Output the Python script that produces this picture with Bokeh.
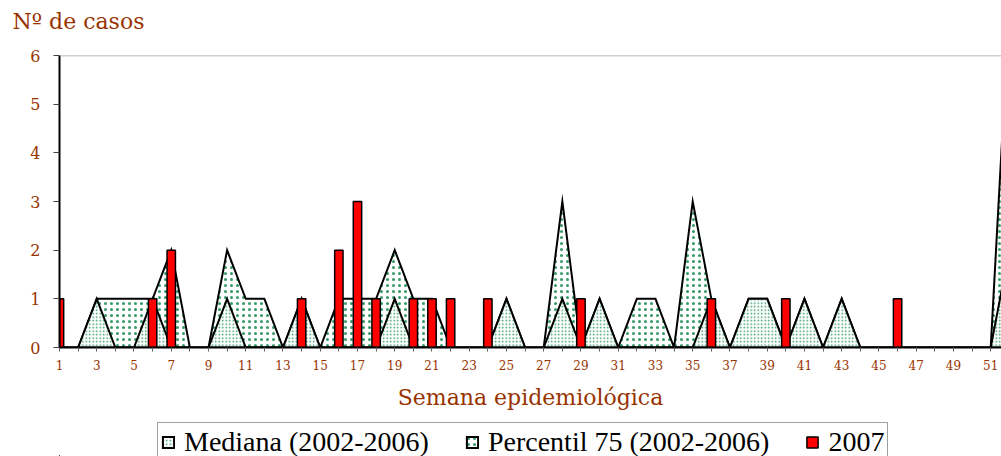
from bokeh.plotting import figure
from bokeh.layouts import column
from bokeh.models import Range1d, FixedTicker, Span, Legend, LegendItem
from bokeh.embed import file_html
from bokeh.resources import INLINE

# ---- data ----
weeks = list(range(1, 53))
mediana = [0, 0, 1, 0, 0, 1, 0, 0, 0, 1, 0, 0, 0, 1, 0, 0, 0, 0, 1, 0,
           0, 0, 0, 0, 1, 0, 0, 1, 0, 1, 0, 0, 0, 0, 0, 1, 0, 1, 1, 0,
           1, 0, 1, 0, 0, 0, 0, 0, 0, 0, 0, 2]
p75 = [0, 0, 1, 1, 1, 1, 2, 0, 0, 2, 1, 1, 0, 1, 0, 1, 1, 1, 2, 1,
       1, 0, 0, 0, 1, 0, 0, 3, 0, 1, 0, 1, 1, 0, 3, 1, 0, 1, 1, 0,
       1, 0, 1, 0, 0, 0, 0, 0, 0, 0, 0, 7]
bar_weeks = [1, 6, 7, 14, 16, 17, 18, 20, 21, 22, 24, 29, 36, 40, 46]
bar_vals = [1, 1, 2, 1, 2, 3, 1, 1, 1, 1, 1, 1, 1, 1, 1]
y_ticks = [0, 1, 2, 3, 4, 5, 6]
x_labels = {w: (str(w) if w % 2 == 1 else "") for w in weeks}
labels = ["Mediana (2002-2006)", "Percentil 75 (2002-2006)", "2007"]

BROWN = "#993300"
GREEN = "#339966"

px = weeks + weeks[::-1]
zeros = [0] * len(weeks)


def draw_series(fig):
    r_p75 = fig.patch(px, p75 + zeros, fill_color="white", hatch_pattern="dot",
                      hatch_color=GREEN, hatch_scale=6, hatch_weight=1.3,
                      line_color="black", line_width=2, line_join="miter")
    r_med = fig.patch(px, mediana + zeros, fill_color="white", hatch_pattern="dot",
                      hatch_color=GREEN, hatch_scale=3.5, hatch_weight=1.3,
                      line_color="black", line_width=2, line_join="miter")
    r_bar = fig.vbar(x=bar_weeks, top=bar_vals, bottom=0, width=0.45,
                     fill_color="#ff0000", line_color="black", line_width=1.5)
    return r_med, r_p75, r_bar


p = figure(width=1001, height=422, output_backend="svg", toolbar_location=None,
           x_range=Range1d(1, 51.58), y_range=Range1d(0, 6),
           min_border_left=59, min_border_right=0, min_border_top=55,
           min_border_bottom=75, background_fill_color="white",
           border_fill_color="white", outline_line_color=None)

p.title.text = "Nº de casos"
p.title.text_font = "DejaVu Serif"
p.title.text_font_size = "22px"
p.title.text_font_style = "normal"
p.title.text_color = BROWN
p.title.align = "left"
p.title.vertical_align = "top"
p.title.offset = -47
try:
    p.title.padding = dict(left=0, right=0, top=0, bottom=20)
    p.title.standoff = 0
except Exception:
    p.title.standoff = 28

draw_series(p)

p.add_layout(Span(location=6, dimension="width", line_color="#a0a0a0",
                  line_width=1.5))

p.xgrid.grid_line_color = None
p.ygrid.grid_line_color = None

xa = p.xaxis[0]
xa.ticker = FixedTicker(ticks=weeks)
xa.major_label_overrides = x_labels
xa.axis_line_color = "black"
xa.axis_line_width = 2
xa.major_tick_in = 0
xa.major_tick_out = 4
xa.major_tick_line_color = "#606060"
xa.minor_tick_line_color = None
xa.major_label_text_font = "DejaVu Serif"
xa.major_label_text_font_size = "12px"
xa.major_label_text_color = BROWN
xa.major_label_standoff = 8
xa.axis_label = "Semana epidemiológica"
xa.axis_label_text_font = "DejaVu Serif"
xa.axis_label_text_font_size = "22px"
xa.axis_label_text_font_style = "normal"
xa.axis_label_text_color = BROWN
xa.axis_label_standoff = 12

ya = p.yaxis[0]
ya.ticker = FixedTicker(ticks=y_ticks)
ya.axis_line_color = "black"
ya.axis_line_width = 2
ya.major_tick_in = 0
ya.major_tick_out = 6
ya.major_tick_line_color = "#404040"
ya.minor_tick_line_color = None
ya.major_label_text_font = "DejaVu Serif"
ya.major_label_text_font_size = "16px"
ya.major_label_text_color = BROWN
ya.major_label_standoff = 13

# ---- legend strip (same series, view range keeps marks out of sight) ----
lg = figure(width=1001, height=34, output_backend="svg", toolbar_location=None,
            x_range=Range1d(1000, 1001), y_range=Range1d(1000, 1001),
            x_axis_type=None, y_axis_type=None,
            min_border_left=0, min_border_right=0, min_border_top=0,
            min_border_bottom=0, background_fill_color="white",
            border_fill_color="white", outline_line_color=None)
lg.xgrid.grid_line_color = None
lg.ygrid.grid_line_color = None
l_med, l_p75, l_bar = draw_series(lg)

legend = Legend(items=[LegendItem(label=labels[0], renderers=[l_med]),
                       LegendItem(label=labels[1], renderers=[l_p75]),
                       LegendItem(label=labels[2], renderers=[l_bar])],
                orientation="horizontal", location=(98, -6))
legend.label_text_font = "Liberation Serif"
legend.label_text_font_size = "28px"
legend.label_text_color = "black"
legend.glyph_width = 14
legend.glyph_height = 14
legend.label_standoff = 9
legend.spacing = 36
legend.padding = 3
legend.margin = 0
legend.label_height = 24
legend.border_line_color = "#404040"
legend.border_line_width = 1
legend.background_fill_color = "white"
legend.background_fill_alpha = 1
lg.add_layout(legend, "center")

layout = column(p, lg, spacing=0)
open("out.html", "w").write(file_html(layout, INLINE))
